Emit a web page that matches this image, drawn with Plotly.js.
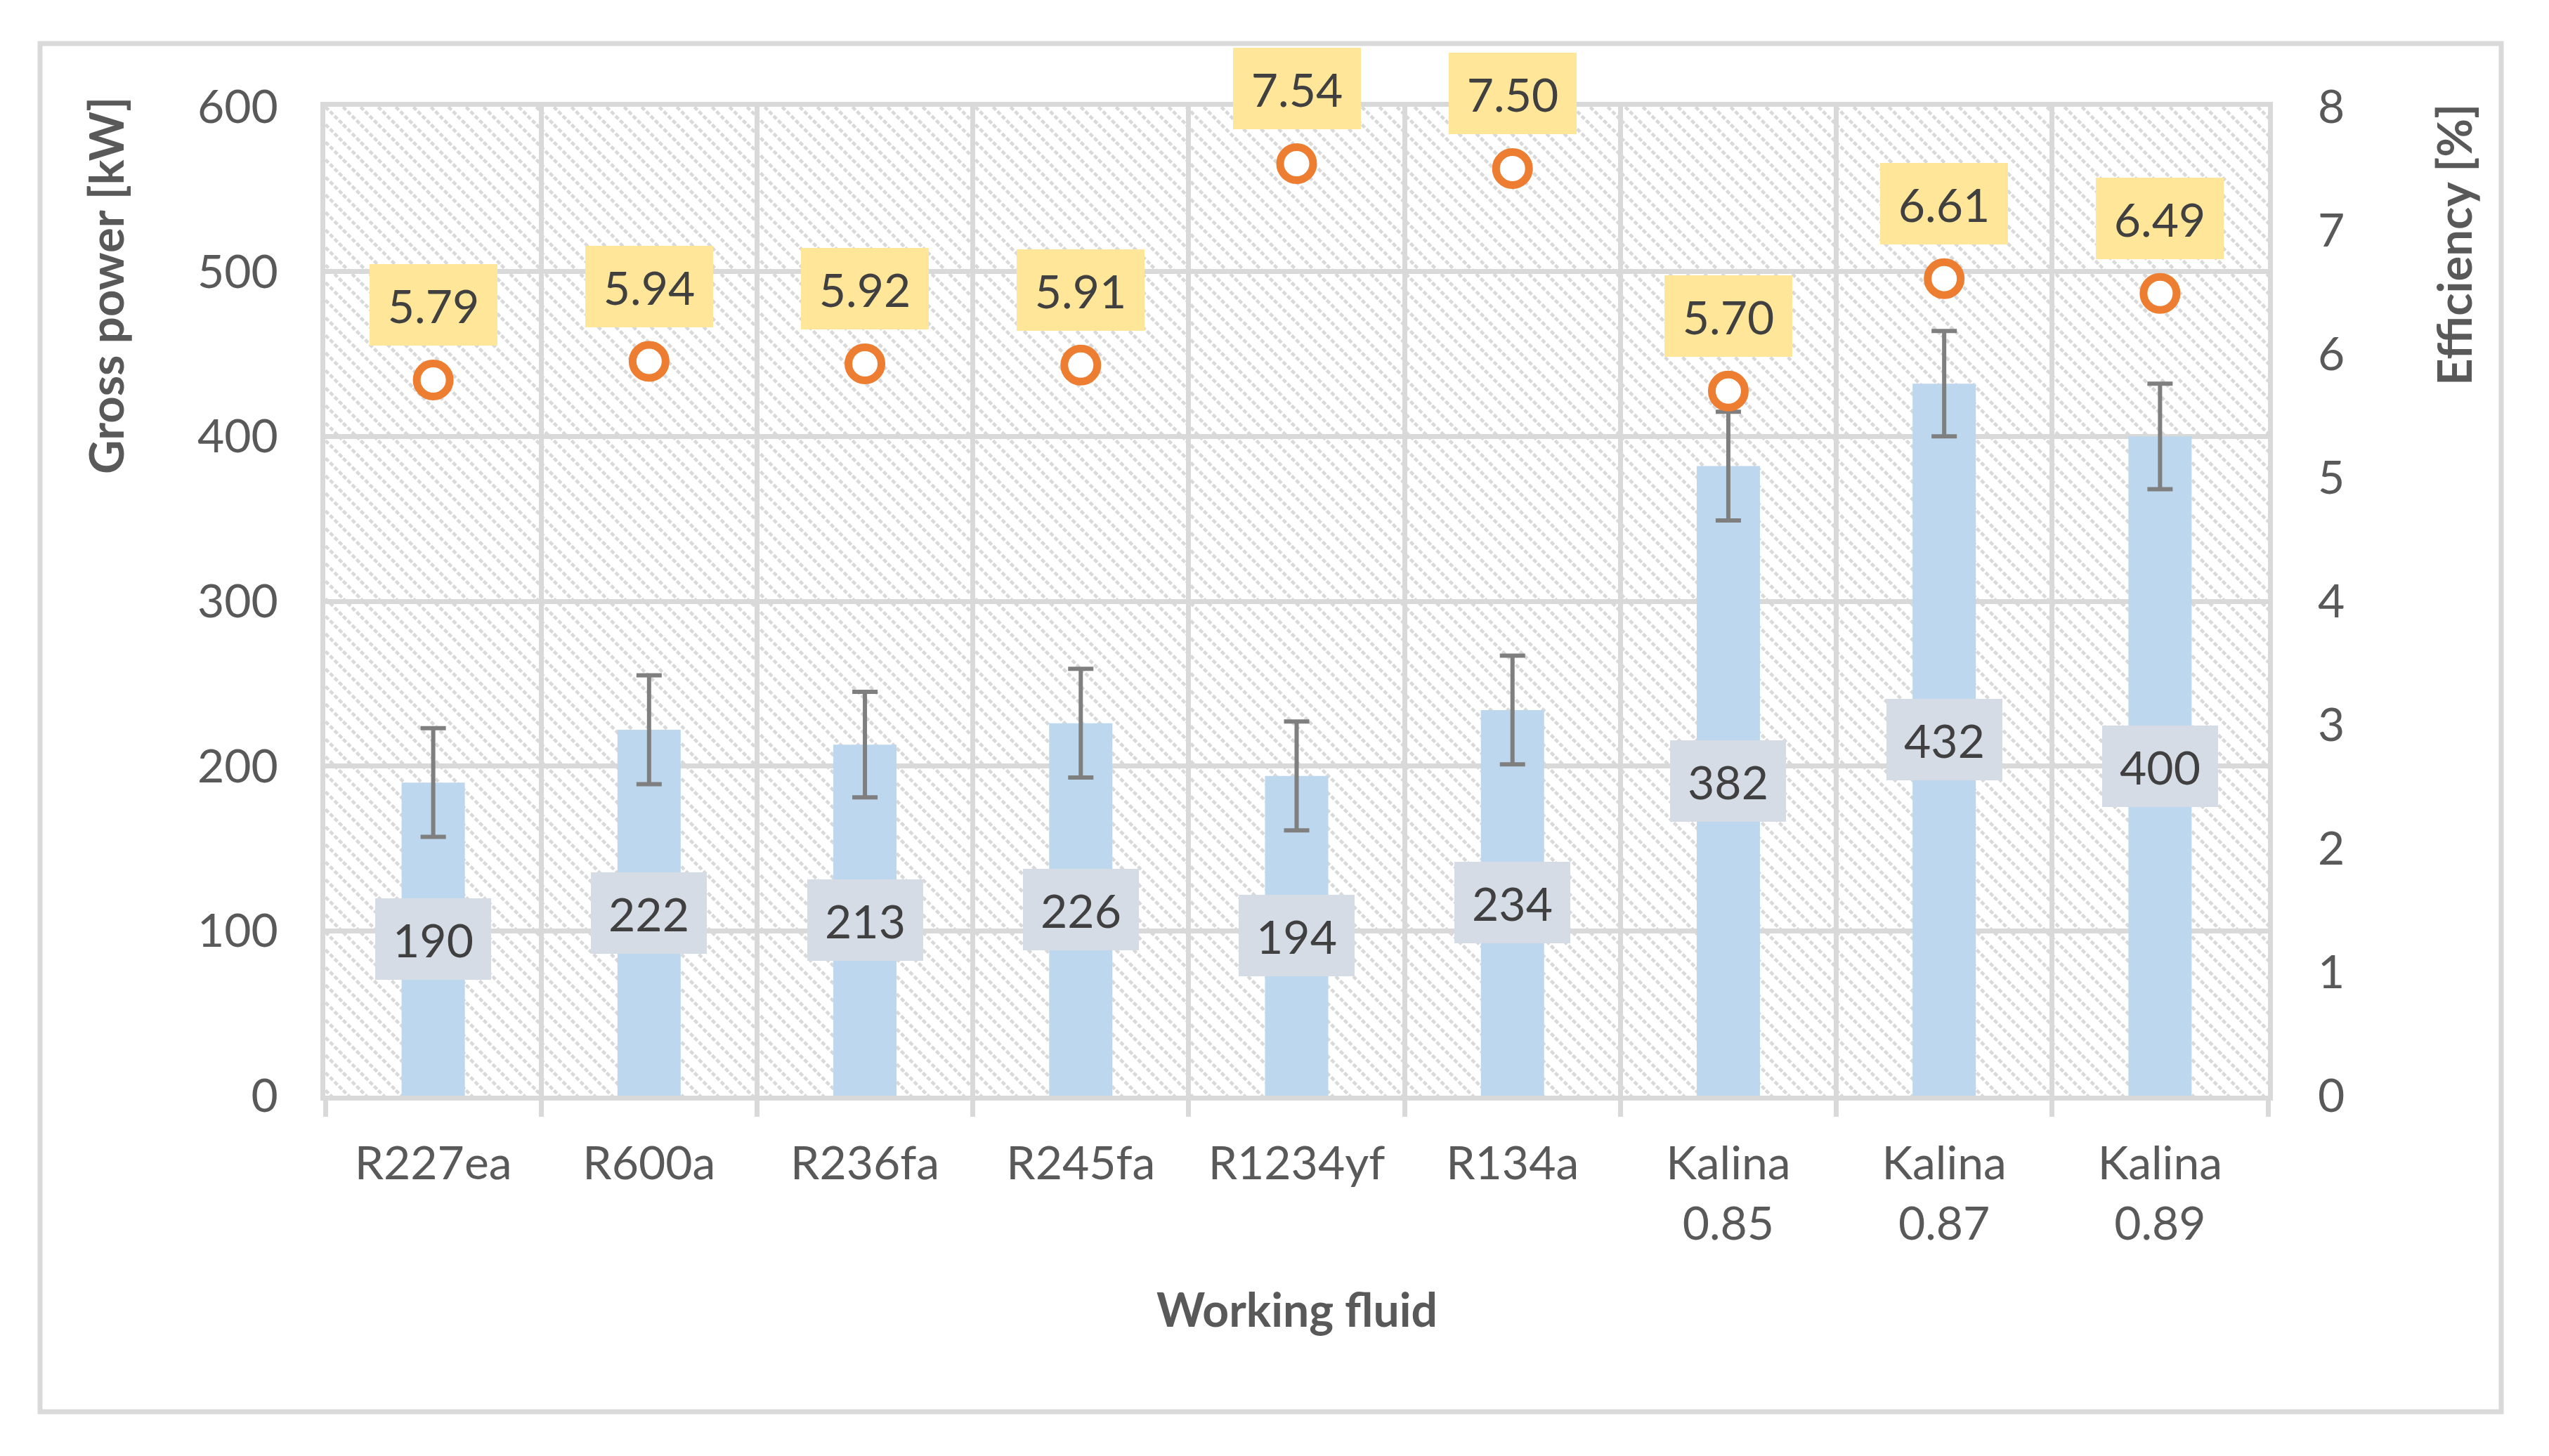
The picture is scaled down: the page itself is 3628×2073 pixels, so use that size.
<!DOCTYPE html>
<html>
<head>
<meta charset="utf-8">
<script src="https://cdn.plot.ly/plotly-3.0.1.min.js"></script>
<style>
  html, body { margin: 0; padding: 0; background: #ffffff; }
  #chart { width: 3628px; height: 2073px; }
</style>
</head>
<body>
<div id="chart"></div>
<script>
// ---- data ----
const categories = ["R227ea", "R600a", "R236fa", "R245fa", "R1234yf", "R134a", "Kalina<br>0.85", "Kalina<br>0.87", "Kalina<br>0.89"];
const grossPower = [190, 222, 213, 226, 194, 234, 382, 432, 400];
const powerError = [33, 33, 32, 33, 33, 33, 33, 32, 32];
const efficiency = [5.79, 5.94, 5.92, 5.91, 7.54, 7.50, 5.70, 6.61, 6.49];
const leftTicks = [0, 100, 200, 300, 400, 500, 600];
const rightTicks = [0, 1, 2, 3, 4, 5, 6, 7, 8];

// ---- geometry / style ----
const W = 3628, H = 2073;
const M = { l: 463, r: 400, t: 152, b: 513 };
const PW = W - M.l - M.r, PH = H - M.t - M.b;
const FONT = "Lato, 'Open Sans', 'DejaVu Sans', sans-serif";
const GRID = "#d9d9d9";
const AXIS_TXT = "#595959";
const LBL_TXT = "#404040";

// hatched plot background (wide downward diagonal)
const per = 25;
const hatchSvg =
  '<svg xmlns="http://www.w3.org/2000/svg" width="' + PW + '" height="' + PH + '">' +
  '<defs><pattern id="h" width="' + per + '" height="' + per + '" patternUnits="userSpaceOnUse">' +
  '<path d="M-6,-6 L' + (per + 6) + ',' + (per + 6) + ' M-6,' + (per - 6) + ' L6,' + (per + 6) + ' M' + (per - 6) + ',-6 L' + (per + 6) + ',6" ' +
  'stroke="#d9d9d9" stroke-width="4.6" stroke-dasharray="6,3"/></pattern></defs>' +
  '<rect width="100%" height="100%" fill="#ffffff"/><rect width="100%" height="100%" fill="url(#h)"/></svg>';
const hatchURI = "data:image/svg+xml;charset=utf-8," + encodeURIComponent(hatchSvg);

const barTrace = {
  type: "bar",
  x: categories,
  y: grossPower,
  marker: { color: "#bdd7ee" },
  error_y: { type: "data", array: powerError, visible: true, color: "#7f7f7f", thickness: 6, width: 18 },
  hoverinfo: "x+y",
  showlegend: false
};

const effTrace = {
  type: "scatter",
  mode: "markers",
  x: categories,
  y: efficiency,
  yaxis: "y2",
  marker: { symbol: "circle", size: 47, color: "#ffffff", line: { color: "#ed7d31", width: 11 } },
  cliponaxis: false,
  showlegend: false
};

const annotations = [];
categories.forEach((c, i) => {
  annotations.push({
    x: c, y: grossPower[i] / 2, xref: "x", yref: "y",
    text: String(grossPower[i]), showarrow: false,
    font: { family: FONT, size: 66, color: LBL_TXT },
    bgcolor: "#d6dce5", borderwidth: 0, borderpad: 15,
    width: 135, height: 86, align: "center", valign: "middle"
  });
  annotations.push({
    x: c, y: efficiency[i], xref: "x", yref: "y2", yshift: 107,
    text: efficiency[i].toFixed(2), showarrow: false,
    font: { family: FONT, size: 66, color: LBL_TXT },
    bgcolor: "#ffe699", borderwidth: 0, borderpad: 15,
    width: 152, height: 86, align: "center", valign: "middle"
  });
});

const px2x = p => (p - M.l) / PW;
const px2y = p => (H - M.b - p) / PH;

annotations.push({
  xref: "paper", yref: "paper", x: px2x(150), y: px2y(407),
  text: "<b>Gross power [kW]</b>", textangle: -90, showarrow: false,
  xanchor: "center", yanchor: "middle",
  font: { family: FONT, size: 67, color: AXIS_TXT }
});
annotations.push({
  xref: "paper", yref: "paper", x: px2x(3492), y: px2y(349),
  text: "<b>Efficiency [%]</b>", textangle: -90, showarrow: false,
  xanchor: "center", yanchor: "middle",
  font: { family: FONT, size: 67, color: AXIS_TXT }
});
annotations.push({
  xref: "paper", yref: "paper", x: 0.5, y: px2y(1863),
  text: "<b>Working fluid</b>", showarrow: false,
  xanchor: "center", yanchor: "middle",
  font: { family: FONT, size: 66, color: AXIS_TXT }
});

const layout = {
  width: W, height: H,
  margin: M,
  paper_bgcolor: "#ffffff",
  plot_bgcolor: "rgba(0,0,0,0)",
  bargap: 0.707,
  font: { family: FONT, size: 66, color: AXIS_TXT },
  xaxis: {
    type: "category",
    range: [-0.5, categories.length - 0.5], autorange: false,
    tickson: "boundaries",
    ticks: "outside", ticklen: 23, tickwidth: 7, tickcolor: GRID,
    showgrid: true, gridcolor: GRID, gridwidth: 7,
    showline: true, linecolor: GRID, linewidth: 7, mirror: true,
    tickfont: { family: FONT, size: 66, color: AXIS_TXT },
    ticklabelstandoff: 33,
    fixedrange: true
  },
  yaxis: {
    range: [0, 600], autorange: false, tickvals: leftTicks, ticktext: leftTicks.map(String),
    showgrid: true, gridcolor: GRID, gridwidth: 7,
    showline: true, linecolor: GRID, linewidth: 7, mirror: true,
    zeroline: false, ticks: "",
    ticklabelstandoff: 47,
    tickfont: { family: FONT, size: 66, color: AXIS_TXT },
    fixedrange: true
  },
  yaxis2: {
    overlaying: "y", side: "right",
    range: [0, 8], autorange: false, tickvals: rightTicks, ticktext: rightTicks.map(String),
    showgrid: false, zeroline: false, showline: false, ticks: "",
    ticklabelstandoff: 70,
    tickfont: { family: FONT, size: 66, color: AXIS_TXT },
    fixedrange: true
  },
  images: [{
    source: hatchURI, xref: "paper", yref: "paper",
    x: 0, y: 1, sizex: 1, sizey: 1, xanchor: "left", yanchor: "top",
    sizing: "stretch", layer: "below"
  }],
  shapes: [{
    type: "rect", xref: "paper", yref: "paper",
    x0: px2x(57), x1: px2x(3560), y0: px2y(2010), y1: px2y(62),
    line: { color: GRID, width: 7 }, fillcolor: "rgba(0,0,0,0)", layer: "below"
  }],
  annotations: annotations,
  showlegend: false
};

Plotly.newPlot("chart", [barTrace, effTrace], layout, { displayModeBar: false, staticPlot: true });
</script>
</body>
</html>
